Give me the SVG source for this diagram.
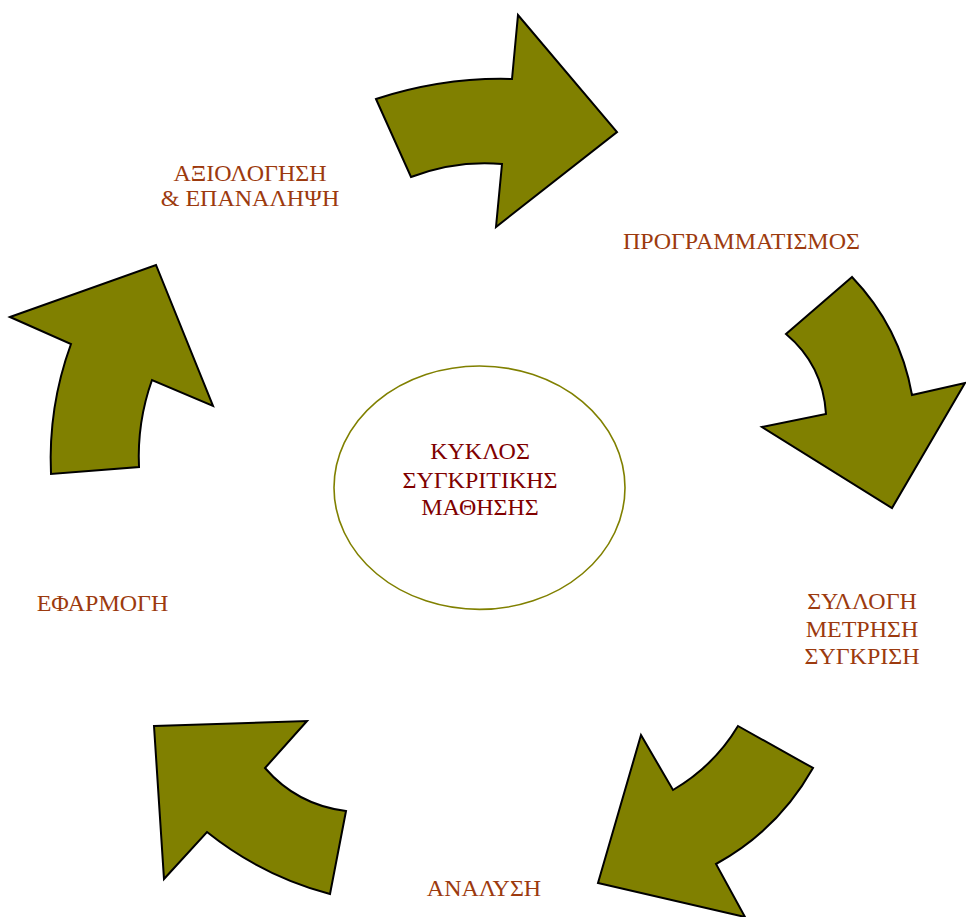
<svg xmlns="http://www.w3.org/2000/svg" width="966" height="917" viewBox="0 0 966 917">
  <style>
    .arrow { fill: #808000; stroke: #000000; stroke-width: 2; stroke-linejoin: miter; }
    .label { font-family: "Liberation Serif", "Times New Roman", serif; font-size: 24px; fill: #9C3A0E; text-anchor: middle; }
    .core { font-family: "Liberation Serif", "Times New Roman", serif; font-size: 24px; fill: #800000; text-anchor: middle; }
  </style>
  <rect width="966" height="917" fill="#ffffff"/>

  <g id="connectors">
    <path id="arrow-plan" class="arrow" d="M376,99 Q444,77 512,79 L518,15 L617,132 L496,227 L502,164 Q456,160 411,177 Z"/>
    <path id="arrow-collect" class="arrow" d="M852,277 L786,334 Q823,365 826,414 L762,427 L892,508 L965,383 L912,395 Q900,327 852,277 Z"/>
    <path id="arrow-analyse" class="arrow" d="M738,726 L813,768 Q778,830 716,864 L745,917 L598,883 L641,735 L673,790 Q714,766 738,726 Z"/>
    <path id="arrow-apply" class="arrow" d="M154,726 L307,721 L265,768 Q297,805 346,811 L330,894 Q262,876 207,832 L164,879 Z"/>
    <path id="arrow-review" class="arrow" d="M10,317 L156,265 L213,406 L152,380 Q137,422 139,467 L51,474 Q48,407 71,344 Z"/>
  </g>

  <g id="node-cycle">
    <ellipse cx="479.5" cy="487.7" rx="145.5" ry="121.7" fill="#ffffff" stroke="#808000" stroke-width="1.6"/>
    <text class="core" x="480" y="459">ΚΥΚΛΟΣ</text>
    <text class="core" x="480" y="487.5">ΣΥΓΚΡΙΤΙΚΗΣ</text>
    <text class="core" x="480" y="515">ΜΑΘΗΣΗΣ</text>
  </g>

  <g id="node-planning">
    <text class="label" x="741.5" y="249">ΠΡΟΓΡΑΜΜΑΤΙΣΜΟΣ</text>
  </g>

  <g id="node-collection">
    <text class="label" x="862" y="609">ΣΥΛΛΟΓΗ</text>
    <text class="label" x="862" y="636.5">ΜΕΤΡΗΣΗ</text>
    <text class="label" x="862" y="663.5">ΣΥΓΚΡΙΣΗ</text>
  </g>

  <g id="node-analysis">
    <text class="label" x="484" y="896">ΑΝΑΛΥΣΗ</text>
  </g>

  <g id="node-application">
    <text class="label" x="102.5" y="610.5">ΕΦΑΡΜΟΓΗ</text>
  </g>

  <g id="node-evaluation">
    <text class="label" x="250" y="181">ΑΞΙΟΛΟΓΗΣΗ</text>
    <text class="label" x="250" y="206">&amp; ΕΠΑΝΑΛΗΨΗ</text>
  </g>
</svg>
